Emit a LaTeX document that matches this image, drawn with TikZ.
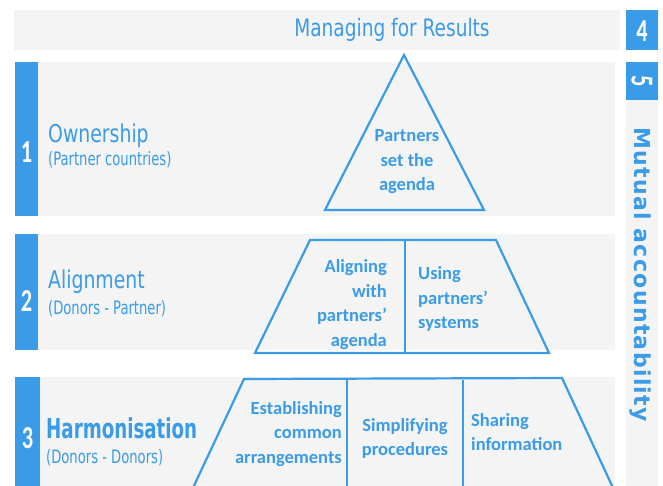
\documentclass[tikz,border=0pt]{standalone}
\usepackage{fontspec}
\usepackage{graphicx}
\setmainfont{Carlito}
\newfontfamily\dvc{DejaVu Sans Condensed}
\newfontfamily\dvs[LetterSpace=6]{DejaVu Sans}
\newcommand{\hsq}[2]{\scalebox{#1}[1]{#2}}
\definecolor{pblue}{HTML}{3A9BE8}
\definecolor{pgray}{HTML}{F4F4F4}
\tikzset{
  band/.style={fill=pgray, draw=none},
  bluebar/.style={fill=pblue, draw=none},
  shapeline/.style={draw=pblue, line width=2.2pt, line join=miter},
  divline/.style={draw=pblue, line width=1.2pt},
  num/.style={text=white, font=\bfseries\fontsize{32}{32}\selectfont, inner sep=0pt},
  title/.style={text=pblue, font=\dvc\fontsize{24.5}{24.5}\selectfont, anchor=base west, inner sep=0pt},
  sub/.style={text=pblue, font=\dvc\fontsize{18.5}{18.5}\selectfont, anchor=base west, inner sep=0pt},
  ptext/.style={text=pblue, font=\bfseries\fontsize{18.5}{24.5}\selectfont, inner sep=0pt},
}
\begin{document}
\begin{tikzpicture}[x=1pt,y=-1pt]
\useasboundingbox (0,0) rectangle (663,486);
% top band
\path[band] (14,10) rectangle (620,50);
\node[text=pblue, font=\dvc\fontsize{24}{24}\selectfont, inner sep=0pt, anchor=base] (mfr) at (392,37) {\hsq{0.86}{Managing for Results}};
\path[bluebar] (626,10) rectangle (658,50);
\node[num] (n4) at (642,31) {\hsq{0.7}{4}};
% column 5
\path[bluebar] (626,62) rectangle (658,100);
\node[num, rotate=-90] (n5) at (642,81) {\hsq{0.7}{5}};
\path[band] (626,100) rectangle (658,486);
\node[text=pblue, font=\dvs\bfseries\fontsize{22}{22}\selectfont, rotate=-90, inner sep=0pt] (ma) at (640,274.5) {Mutual accountability};
% row 1
\path[band] (38,62) rectangle (615,216);
\path[bluebar] (15,62) rectangle (38,216);
\node[num] (n1) at (26.5,152) {\hsq{0.7}{1}};
\node[title] (own) at (48,143) {\hsq{0.855}{Ownership}};
\node[sub] (ownsub) at (48,166) {\hsq{0.79}{(Partner countries)}};
\coordinate (t1) at (404,55);
\coordinate (t2) at (484,210);
\coordinate (t3) at (325,210);
\draw[shapeline] (t1) -- (t2) -- (t3) -- cycle;
\node[ptext, align=center] (psa) at (407,162) {Partners\\set the\\agenda};
% row 2
\path[band] (38,234) rectangle (615,350);
\path[bluebar] (15,234) rectangle (38,350);
\node[num] (n2) at (26.5,301) {\hsq{0.7}{2}};
\node[title] (ali) at (48,288) {\hsq{0.855}{Alignment}};
\node[sub] (alisub) at (48,314) {\hsq{0.79}{(Donors - Partner)}};
\coordinate (a1) at (310,240);
\coordinate (a2) at (496,240);
\coordinate (a3) at (549,353);
\coordinate (a4) at (255,353);
\draw[shapeline] (a1) -- (a2) -- (a3) -- (a4) -- cycle;
\coordinate (ad1) at (405,241);
\coordinate (ad2) at (405,352);
\draw[divline] (ad1) -- (ad2);
\node[ptext, align=right, anchor=east] (awp) at (387,304.5) {Aligning\\with\\partners’\\agenda};
\node[ptext, align=left, anchor=west] (ups) at (418,299) {Using\\partners’\\systems};
% row 3
\path[band] (38,377) rectangle (615,486);
\path[bluebar] (15,377) rectangle (40,486);
\node[num] (n3) at (27.5,438) {\hsq{0.7}{3}};
\node[title, font=\dvc\bfseries\fontsize{27.4}{27.4}\selectfont] (har) at (46,438) {\hsq{0.74}{Harmonisation}};
\node[sub] (harsub) at (46,463) {\hsq{0.79}{(Donors - Donors)}};
\coordinate (h1) at (244,379);
\coordinate (h2) at (562,378);
\coordinate (h3) at (614,490);
\coordinate (h4) at (192,490);
\draw[shapeline] (h4) -- (h1) -- (h2) -- (h3);
\coordinate (hd1) at (347,380);
\coordinate (hd2) at (347,486);
\coordinate (hd3) at (463,380);
\coordinate (hd4) at (463,486);
\draw[divline] (hd1) -- (hd2);
\draw[divline] (hd3) -- (hd4);
\node[ptext, align=right, anchor=east] (eca) at (342,434) {Establishing\\common\\arrangements};
\node[ptext, align=center] (sp) at (405,438.5) {Simplifying\\procedures};
\node[ptext, align=left, anchor=west] (si) at (471,432) {Sharing\\information};
\end{tikzpicture}
\end{document}
